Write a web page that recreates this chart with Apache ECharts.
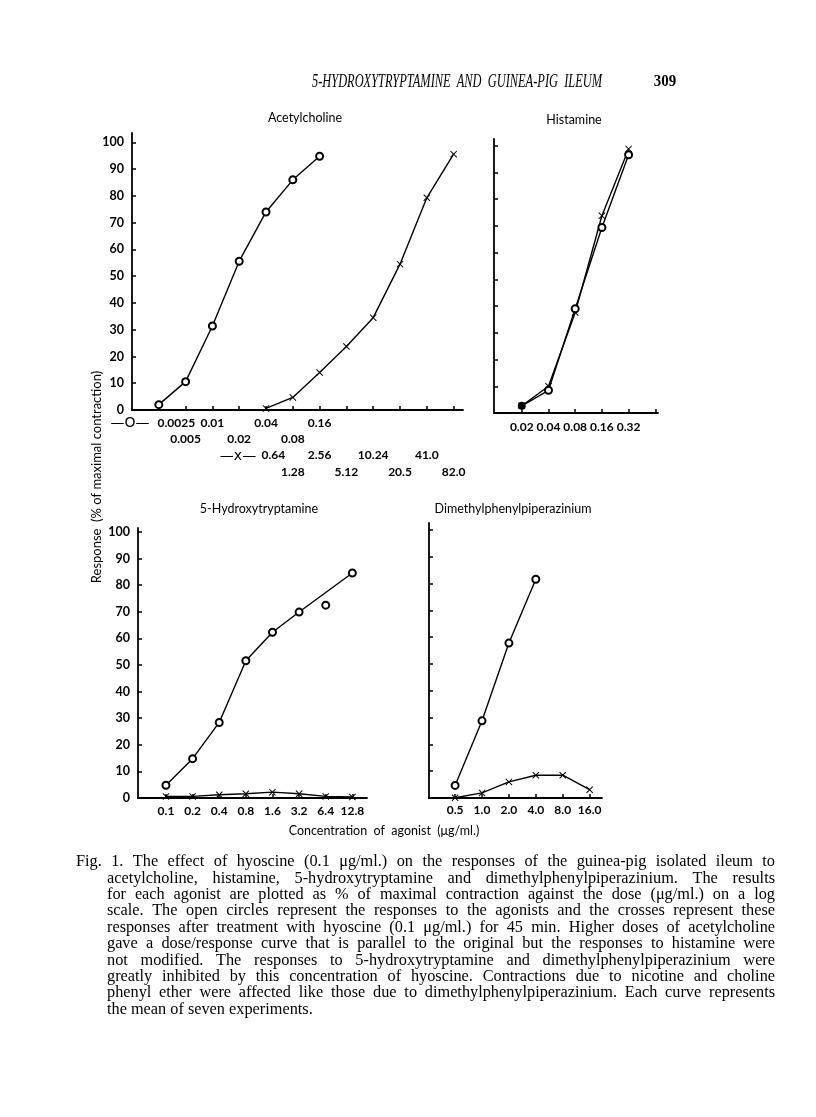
<!DOCTYPE html>
<html>
<head>
<meta charset="utf-8">
<title>Fig. 1 - hyoscine and guinea-pig ileum</title>
<script src="https://cdn.jsdelivr.net/npm/echarts@6/dist/echarts.min.js"></script>
<style>
  html, body { margin: 0; padding: 0; background: #fff; }
  #chart { width: 816px; height: 1117px; }
</style>
</head>
<body>
<div id="chart"></div>
<script>
// acetylcholine: open circles (before) and crosses (after hyoscine)
const achCircleDoses = ["0.0025", "0.005", "0.01", "0.02", "0.04", "0.08", "0.16"];
const achCircle = [2, 10.6, 31.4, 55.6, 74, 86, 94.8];
const achCrossDoses = ["0.64", "1.28", "2.56", "5.12", "10.24", "20.5", "41.0", "82.0"];
const achCross = [0.6, 4.7, 14, 23.7, 34.5, 54.5, 79.3, 95.6];
const achCrossStart = 4; // 0.64 sits on the same tick as 0.04

// histamine
const histDoses = ["0.02", "0.04", "0.08", "0.16", "0.32"];
const histCircle = [2.7, 8.5, 39, 69.4, 96.6];
const histCross = [2.7, 10, 37.6, 73.8, 98.8];
const histSolid = [0]; // circle and cross coincide, printed as a solid dot

// 5-hydroxytryptamine
const htDoses = ["0.1", "0.2", "0.4", "0.8", "1.6", "3.2", "6.4", "12.8"];
const htCircle = [4.8, 14.8, 28.4, 51.6, 62.3, 69.9, 72.5, 84.6];
const htCross = [0.6, 0.6, 1.2, 1.6, 2.2, 1.6, 0.6, 0.4];
const htLineSkip = [6]; // the 6.4 point lies off the drawn curve

// dimethylphenylpiperazinium
const dmppDoses = ["0.5", "1.0", "2.0", "4.0", "8.0", "16.0"];
const dmppCircle = [4.7, 28.8, 57.8, 81.6];
const dmppCross = [0.1, 1.9, 6, 8.5, 8.5, 3.1];

const yTicks = [0, 10, 20, 30, 40, 50, 60, 70, 80, 90, 100];

const captionLines = [
  "Fig. 1.  The effect of hyoscine (0.1 \u03bcg/ml.) on the responses of the guinea-pig isolated ileum to",
  "acetylcholine, histamine, 5-hydroxytryptamine and dimethylphenylpiperazinium.  The results",
  "for each agonist are plotted as % of maximal contraction against the dose (\u03bcg/ml.) on a log",
  "scale.  The open circles represent the responses to the agonists and the crosses represent these",
  "responses after treatment with hyoscine (0.1 \u03bcg/ml.) for 45 min.  Higher doses of acetylcholine",
  "gave a dose/response curve that is parallel to the original but the responses to histamine were",
  "not modified.  The responses to 5-hydroxytryptamine and dimethylphenylpiperazinium were",
  "greatly inhibited by this concentration of hyoscine.  Contractions due to nicotine and choline",
  "phenyl ether were affected like those due to dimethylphenylpiperazinium.  Each curve represents",
  "the mean of seven experiments."
];

const SANS = "Lato";
const SERIF = '"Liberation Serif"';
const CROSS = "path://M1,0L5,4L9,0L10,1L6,5L10,9L9,10L5,6L1,10L0,9L4,5L0,1Z";

const chart = echarts.init(document.getElementById("chart"));

const range = (n) => Array.from({ length: n }, (_, i) => i);
const pts = (vals, start) => vals.map((v, i) => [i + (start || 0), v]);

const labelStyle = {
  color: "#000", fontFamily: SANS, fontSize: 12, fontWeight: "bold",
  showMinLabel: true, showMaxLabel: true, hideOverlap: false
};

function xAxis(grid, min, max, nTicks, formatter, margin) {
  return {
    type: "value", gridIndex: grid, min: min, max: max, position: "bottom",
    axisLine: { onZero: false, lineStyle: { color: "#000", width: 1.8 } },
    axisTick: { inside: true, length: 4, customValues: range(nTicks), lineStyle: { color: "#000", width: 1.5 } },
    axisLabel: Object.assign({ customValues: range(nTicks), formatter: formatter, margin: margin }, labelStyle),
    splitLine: { show: false }
  };
}

// extra label-only row under the acetylcholine axis
function achRow(ticks, names, row, pad) {
  return {
    type: "value", gridIndex: 0, min: -1, max: 11.35, position: "bottom", offset: row * 16.3,
    axisLine: { show: false, onZero: false },
    axisTick: { show: false },
    axisLabel: Object.assign({
      customValues: ticks, margin: 7,
      formatter: (v) => " ".repeat(v === ticks[0] ? pad : 0) + (names[ticks.indexOf(v)] || "")
    }, labelStyle),
    splitLine: { show: false }
  };
}

function yAxis(grid, max, labels) {
  return {
    type: "value", gridIndex: grid, min: 0, max: max,
    axisLine: { onZero: false, lineStyle: { color: "#000", width: 1.8 } },
    axisTick: { inside: true, length: 4, customValues: yTicks, lineStyle: { color: "#000", width: 1.5 } },
    axisLabel: Object.assign({}, labelStyle, { show: labels, customValues: yTicks, margin: 8, fontSize: 12.5 }),
    splitLine: { show: false }
  };
}

function circles(name, grid, data, extra) {
  return Object.assign({
    name: name, type: "line", xAxisIndex: grid, yAxisIndex: grid, data: data,
    symbol: "emptyCircle", symbolSize: 7, showAllSymbol: true,
    lineStyle: { color: "#000", width: 1.4 },
    itemStyle: { color: "#000", borderWidth: 1.6 },
    z: 3
  }, extra || {});
}

function crosses(name, grid, data) {
  return {
    name: name, type: "line", xAxisIndex: grid, yAxisIndex: grid, data: data,
    symbol: CROSS, symbolSize: 7, showAllSymbol: true,
    lineStyle: { color: "#000", width: 1.4 },
    itemStyle: { color: "#000" },
    z: 2
  };
}

// staggered dose rows for acetylcholine
const pick = (arr, parity) => arr.filter((_, i) => i % 2 === parity);
const circleTicks = range(achCircleDoses.length);
const crossTicks = range(achCrossDoses.length).map((i) => i + achCrossStart);

const histCircleData = histCircle.map((v, i) =>
  histSolid.indexOf(i) >= 0 ? { value: [i, v], symbol: "circle", symbolSize: 8 } : [i, v]);

const htLine = htCircle.map((v, i) => [i, htLineSkip.indexOf(i) >= 0 ? "-" : v]);
const htOff = htLineSkip.map((i) => [i, htCircle[i]]);

// caption, justified word by word
const measure = document.createElement("canvas").getContext("2d");
const capFont = "16.3px " + SERIF;
measure.font = capFont;
const graphics = [];
captionLines.forEach((line, li) => {
  const left = li === 0 ? 76 : 107;
  const right = 775;
  const y = 862 + li * 16.4;
  const words = line.split(/ +/);
  const widths = words.map((w) => measure.measureText(w).width);
  const total = widths.reduce((a, b) => a + b, 0);
  const last = li === captionLines.length - 1;
  const gap = last ? measure.measureText(" ").width : (right - left - total) / (words.length - 1);
  let x = left;
  words.forEach((w, i) => {
    graphics.push({
      type: "text", x: x, y: y, silent: true,
      style: { text: w, font: capFont, fill: "#000", align: "left", verticalAlign: "middle" }
    });
    x += widths[i] + gap;
  });
});

function label(text, x, y, font, extra) {
  return Object.assign({
    type: "text", x: x, y: y, silent: true,
    style: { text: text, font: font, fill: "#000", align: "center", verticalAlign: "middle" }
  }, extra || {});
}

// running head squeezed into its printed width
const headText = "5-HYDROXYTRYPTAMINE  AND  GUINEA-PIG  ILEUM";
const headFont = "italic 18px " + SERIF;
measure.font = headFont;
const headScale = 290 / measure.measureText(headText).width;

graphics.push(
  label(headText, 457, 82, headFont, { scaleX: headScale }),
  label("309", 665, 82, "bold 17px " + SERIF, { scaleX: 0.88 }),
  label("Acetylcholine", 305, 118, "12.5px " + SANS),
  label("Histamine", 574, 120, "12.5px " + SANS),
  label("5-Hydroxytryptamine", 259, 509, "12.5px " + SANS),
  label("Dimethylphenylpiperazinium", 513, 509, "12.5px " + SANS),
  label("Response  (% of maximal contraction)", 97, 477, "13px " + SANS, { rotation: Math.PI / 2 }),
  label("Concentration  of  agonist  (\u03bcg/ml.)", 384, 831, "12.5px " + SANS),
  label("\u2014O\u2014", 130, 423, "14px DejaVu Sans"),
  label("\u2014x\u2014", 238, 456, "14px DejaVu Sans")
);

const option = {
  backgroundColor: "#fff",
  animation: false,
  grid: [
    { left: 132, top: 133, width: 331, height: 277 },
    { left: 494, top: 139, width: 164, height: 274 },
    { left: 138, top: 528, width: 229, height: 270 },
    { left: 429, top: 523, width: 173, height: 275 }
  ],
  xAxis: [
    xAxis(0, -1, 11.35, 12, () => "", 5),
    xAxis(1, -1.04, 5.1, 6, (v) => histDoses[v] || "", 8),
    xAxis(2, -1.05, 7.55, 8, (v) => htDoses[v] || "", 7),
    xAxis(3, -0.97, 5.46, 6, (v) => dmppDoses[v] || "", 6),
    achRow(pick(circleTicks, 0), pick(achCircleDoses, 0), 0, 12),
    achRow(pick(circleTicks, 1), pick(achCircleDoses, 1), 1, 0),
    achRow(pick(crossTicks, 0), pick(achCrossDoses, 0), 2, 5),
    achRow(pick(crossTicks, 1), pick(achCrossDoses, 1), 3, 0)
  ],
  yAxis: [
    yAxis(0, 103.5, true),
    yAxis(1, 102.5, false),
    yAxis(2, 101.5, true),
    yAxis(3, 102.6, false)
  ],
  series: [
    circles("Acetylcholine", 0, pts(achCircle)),
    crosses("Acetylcholine + hyoscine", 0, pts(achCross, achCrossStart)),
    circles("Histamine", 1, histCircleData),
    crosses("Histamine + hyoscine", 1, pts(histCross)),
    circles("5-Hydroxytryptamine", 2, htLine, { connectNulls: true }),
    {
      name: "5-Hydroxytryptamine", type: "scatter", xAxisIndex: 2, yAxisIndex: 2, data: htOff,
      symbol: "emptyCircle", symbolSize: 7, itemStyle: { color: "#000", borderWidth: 1.6, opacity: 1 }, z: 3
    },
    crosses("5-Hydroxytryptamine + hyoscine", 2, pts(htCross)),
    circles("Dimethylphenylpiperazinium", 3, pts(dmppCircle)),
    crosses("Dimethylphenylpiperazinium + hyoscine", 3, pts(dmppCross))
  ],
  graphic: graphics
};

chart.setOption(option);
window.addEventListener("resize", () => chart.resize());
</script>
</body>
</html>
